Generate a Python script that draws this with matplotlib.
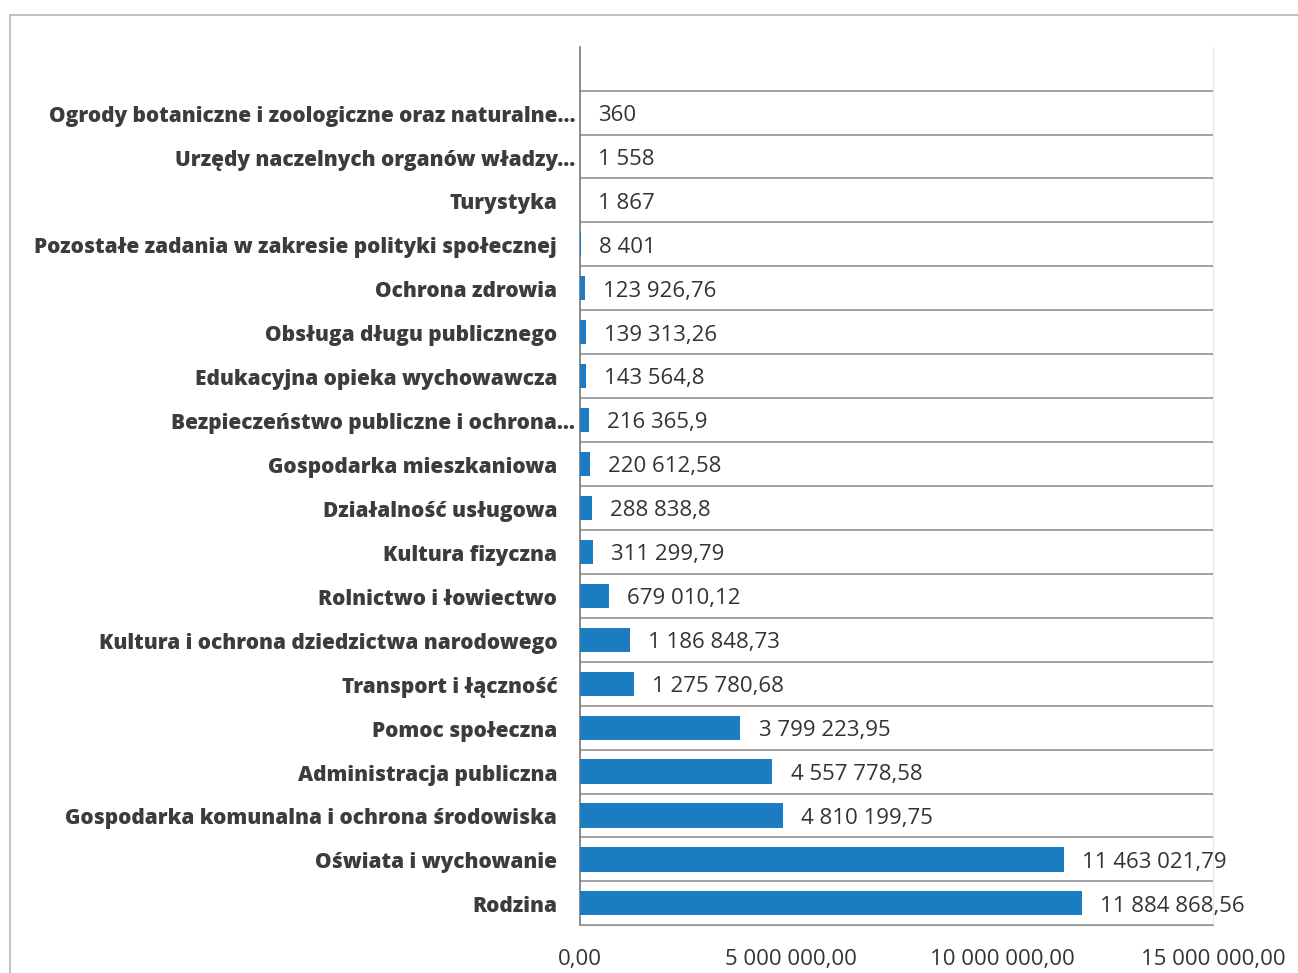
import matplotlib.pyplot as plt
import matplotlib.transforms as mtransforms
from matplotlib.patches import Rectangle
from matplotlib.ticker import FuncFormatter

categories = [
    'Ogrody botaniczne i zoologiczne oraz naturalne...',
    'Urzędy naczelnych organów władzy...',
    'Turystyka',
    'Pozostałe zadania w zakresie polityki społecznej',
    'Ochrona zdrowia',
    'Obsługa długu publicznego',
    'Edukacyjna opieka wychowawcza',
    'Bezpieczeństwo publiczne i ochrona...',
    'Gospodarka mieszkaniowa',
    'Działalność usługowa',
    'Kultura fizyczna',
    'Rolnictwo i łowiectwo',
    'Kultura i ochrona dziedzictwa narodowego',
    'Transport i łączność',
    'Pomoc społeczna',
    'Administracja publiczna',
    'Gospodarka komunalna i ochrona środowiska',
    'Oświata i wychowanie',
    'Rodzina',
]
values = [360, 1558, 1867, 8401, 123926.76, 139313.26, 143564.8, 216365.9,
          220612.58, 288838.8, 311299.79, 679010.12, 1186848.73, 1275780.68,
          3799223.95, 4557778.58, 4810199.75, 11463021.79, 11884868.56]
value_labels = ['360', '1 558', '1 867', '8 401', '123 926,76', '139 313,26',
                '143 564,8', '216 365,9', '220 612,58', '288 838,8',
                '311 299,79', '679 010,12', '1 186 848,73', '1 275 780,68',
                '3 799 223,95', '4 557 778,58', '4 810 199,75',
                '11 463 021,79', '11 884 868,56']
xticks = [0, 5000000, 10000000, 15000000]

bar_color = '#1b7cc2'
text_color = '#333333'

fig = plt.figure(figsize=(12.98, 9.73), dpi=100)
ax = fig.add_axes([0.447, 0.049, 0.4875, 0.903])

n = len(categories)
ypos = [n - 1 - i for i in range(n)]
ax.barh(ypos, values, height=0.55, color=bar_color, zorder=3)

for y, v, lab in zip(ypos, values, value_labels):
    ax.annotate(lab, (v, y), xytext=(13, -2), textcoords='offset points',
                va='center', ha='left', fontsize=16, color=text_color,
                family='Open Sans')

ax.set_xlim(0, 15000000)
ax.set_ylim(-0.5, n + 0.5)
ax.set_yticks(ypos)
ax.set_yticklabels([])

# category labels; truncated ones run a bit closer to the axis
trans = mtransforms.blended_transform_factory(ax.transAxes, ax.transData)
for y, cat in zip(ypos, categories):
    dx = -5 if cat.endswith('...') else -23
    ax.annotate(cat, (0, y), xycoords=trans, xytext=(dx * 0.72, -2.5),
                textcoords='offset points', ha='right', va='center',
                fontsize=15, fontweight='heavy', color='#3c3c3c',
                family='Open Sans')

ax.set_xticks(xticks)
ax.xaxis.set_major_formatter(
    FuncFormatter(lambda v, p: f'{v:,.2f}'.replace(',', ' ').replace('.', ',')))
for t in ax.get_xticklabels():
    t.set_family('Open Sans')
    t.set_fontsize(16)
    t.set_color(text_color)
ax.tick_params(axis='both', length=0)
ax.tick_params(axis='x', pad=17)

for k in range(n + 1):
    ax.axhline(k - 0.5, color='#9a9a9a', lw=1.3, zorder=1)

ax.spines['top'].set_visible(False)
ax.spines['right'].set_color('#e6e6e6')
ax.spines['bottom'].set_color('#9a9a9a')
ax.spines['left'].set_color('#777777')
ax.spines['left'].set_linewidth(1.2)

fig.patches.append(Rectangle((0.008, -0.01), 1.0, 0.995, transform=fig.transFigure,
                             fill=False, edgecolor='#b5b5b5', lw=1.2))

plt.savefig('out.png', dpi=100)
